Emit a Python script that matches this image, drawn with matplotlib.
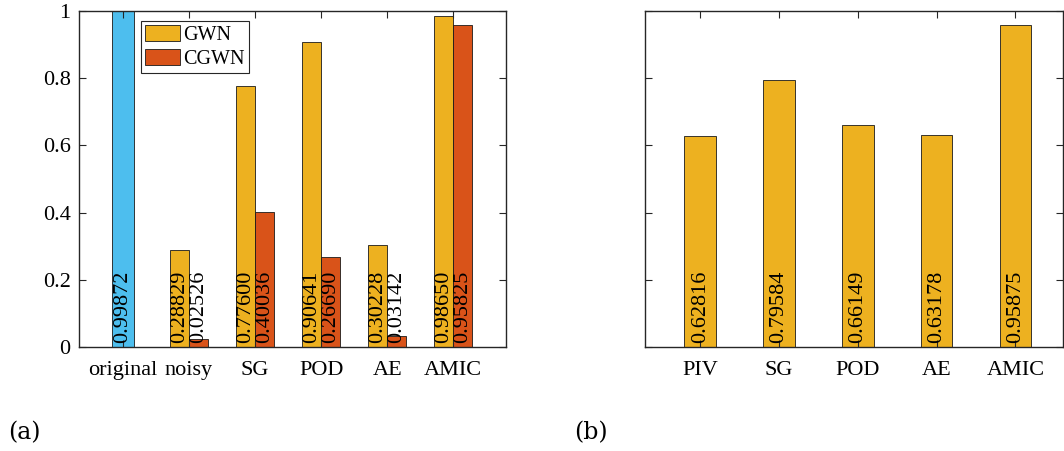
import numpy as np
import matplotlib.pyplot as plt

plt.rcParams['font.family'] = ['Liberation Serif', 'DejaVu Serif']
plt.rcParams['font.size'] = 16

# panel (a)
cats_a = ['original', 'noisy', 'SG', 'POD', 'AE', 'AMIC']
original_val = 0.99872
gwn = [0.28829, 0.77600, 0.90641, 0.30228, 0.98650]
cgwn = [0.02526, 0.40036, 0.26690, 0.03142, 0.95825]
gwn_lbl = ['0.28829', '0.77600', '0.90641', '0.30228', '0.98650']
cgwn_lbl = ['0.02526', '0.40036', '0.26690', '0.03142', '0.95825']

# panel (b)
cats_b = ['PIV', 'SG', 'POD', 'AE', 'AMIC']
vals_b = [0.62816, 0.79584, 0.66149, 0.63178, 0.95875]
vals_b_lbl = ['0.62816', '0.79584', '0.66149', '0.63178', '0.95875']

c_orig = '#4DBEEE'
c_gwn = '#EDB120'
c_cgwn = '#D95319'
spine = '#262626'


def style_axes(ax):
    for s in ax.spines.values():
        s.set_color(spine)
        s.set_linewidth(1.0)
    ax.tick_params(direction='in', top=True, right=True, length=5,
                   width=0.8, color=spine, labelsize=16)
    ax.tick_params(axis='x', pad=10)
    ax.tick_params(axis='y', pad=6)
    ax.set_ylim(0, 1)
    ax.set_yticks([0, 0.2, 0.4, 0.6, 0.8, 1.0])


fig = plt.figure(figsize=(10.64, 4.51), dpi=100)
ax1 = fig.add_axes([0.0742, 0.2306, 0.4014, 0.745])
ax2 = fig.add_axes([0.6062, 0.2306, 0.3933, 0.745])

lab_y = 0.012

# ---- (a)
w = 0.29
xg = np.arange(2, 7)
ax1.bar([1], [original_val], width=0.33, color=c_orig, edgecolor='#1a1a1a', linewidth=0.6)
ax1.bar(xg - w / 2, gwn, width=w, color=c_gwn, edgecolor='#1a1a1a', linewidth=0.6, label='GWN')
ax1.bar(xg + w / 2, cgwn, width=w, color=c_cgwn, edgecolor='#1a1a1a', linewidth=0.6, label='CGWN')
ax1.text(1, lab_y, f'{original_val:.5f}', rotation=90, ha='center', va='bottom', fontsize=16)
for x, lab in zip(xg - w / 2, gwn_lbl):
    ax1.text(x, lab_y, lab, rotation=90, ha='center', va='bottom', fontsize=16)
for x, lab in zip(xg + w / 2, cgwn_lbl):
    ax1.text(x, lab_y, lab, rotation=90, ha='center', va='bottom', fontsize=16)
ax1.set_xlim(0.333, 6.8)
ax1.set_xticks(np.arange(1, 7))
ax1.set_xticklabels(cats_a)
ax1.set_yticklabels(['0', '0.2', '0.4', '0.6', '0.8', '1'])
style_axes(ax1)
leg = ax1.legend(loc='upper left', bbox_to_anchor=(0.145, 0.970), fontsize=14.5,
                 fancybox=False, edgecolor=spine, framealpha=1,
                 handlelength=1.75, handleheight=0.85, handletextpad=0.15,
                 borderpad=0.2, labelspacing=0.2, borderaxespad=0)
leg.get_frame().set_linewidth(0.8)

# ---- (b)
xb = np.arange(1, 6)
ax2.bar(xb, vals_b, width=0.4, color=c_gwn, edgecolor='#1a1a1a', linewidth=0.6)
for x, lab in zip(xb, vals_b_lbl):
    ax2.text(x, lab_y, lab, rotation=90, ha='center', va='bottom', fontsize=16)
ax2.set_xlim(0.3, 5.61)
ax2.set_xticks(xb)
ax2.set_xticklabels(cats_b)
style_axes(ax2)
ax2.set_yticklabels([])

fig.text(0.008, 0.027, '(a)', fontsize=17, ha='left', va='baseline',
         family=['DejaVu Serif'])
fig.text(0.540, 0.027, '(b)', fontsize=17, ha='left', va='baseline',
         family=['DejaVu Serif'])

fig.savefig('out.png', dpi=100)
